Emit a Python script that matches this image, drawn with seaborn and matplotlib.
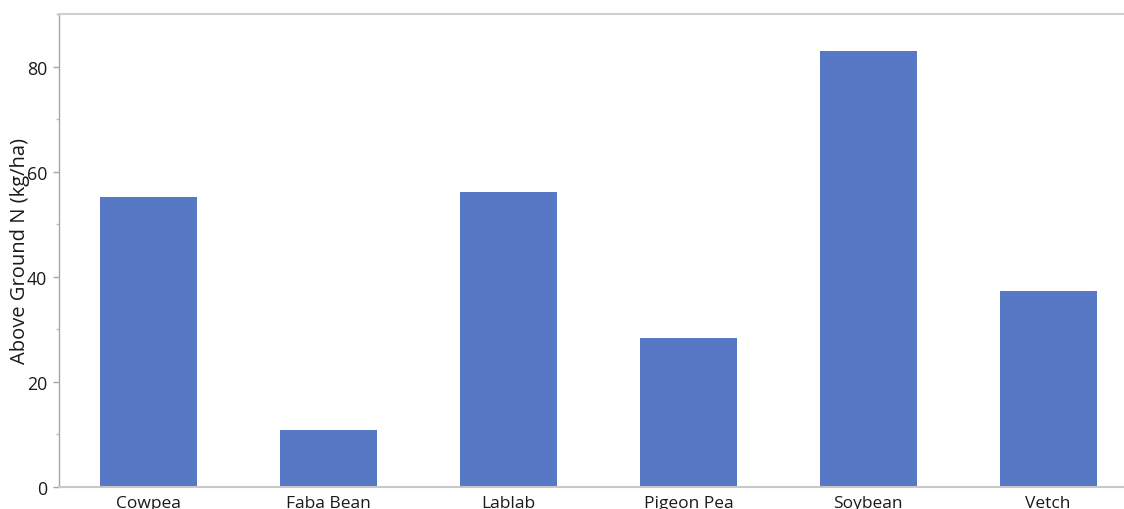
import matplotlib
matplotlib.use("Agg")
import matplotlib.pyplot as plt
from matplotlib.ticker import MultipleLocator
import seaborn as sns
import pandas as pd

# Above-ground nitrogen by legume cover crop
crops = ["Cowpea", "Faba Bean", "Lablab", "Pigeon Pea", "Soybean", "Vetch"]
nitrogen = [55.2, 10.9, 56.2, 28.4, 82.9, 37.3]
y_ticks = [0, 20, 40, 60, 80]

sns.set_theme(style="white")
plt.rcParams["font.family"] = ["Open Sans", "DejaVu Sans"]

df = pd.DataFrame({"crop": crops, "n": nitrogen})

fig = plt.figure(figsize=(11.24, 5.10), dpi=100)
ax = fig.add_axes([59 / 1124, 22 / 510, 1079 / 1124, 473 / 510])

sns.barplot(data=df, x="crop", y="n", color="#5778C4", saturation=1,
            width=0.54, linewidth=0, ax=ax)

ax.set_xlim(-0.5, len(crops) - 0.5)
ax.set_ylim(0, 90)
ax.set_yticks(y_ticks)
ax.set_yticklabels([str(t) for t in y_ticks])
ax.yaxis.set_minor_locator(MultipleLocator(10))

ax.set_xlabel("")
ax.set_ylabel("Above Ground N (kg/ha)", fontsize=14.5, color="#1a1a1a", labelpad=-2)

ax.tick_params(axis="y", which="major", direction="out", length=4, width=1,
               color="#a6a6a6", labelsize=12.8, labelcolor="#1a1a1a", pad=4.5, left=True)
ax.tick_params(axis="y", which="minor", direction="out", length=2.5, width=1,
               color="#bfbfbf", left=True)
ax.tick_params(axis="x", length=0, labelsize=12.5, labelcolor="#1a1a1a", pad=6)

for side in ["top", "bottom", "left", "right"]:
    ax.spines[side].set_visible(True)
ax.spines["left"].set_color("#a6a6a6")
ax.spines["left"].set_linewidth(1)
ax.spines["bottom"].set_color("#c8c8c8")
ax.spines["bottom"].set_linewidth(1.5)
ax.spines["top"].set_color("#d0d0d0")
ax.spines["top"].set_linewidth(1.5)
ax.spines["right"].set_visible(False)

fig.savefig("out.png", dpi=100)
